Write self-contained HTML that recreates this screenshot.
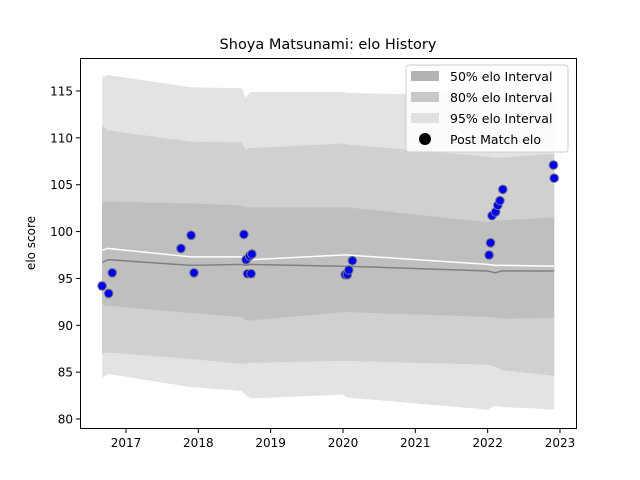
<!DOCTYPE html>
<html><head><meta charset="utf-8"><style>
body{margin:0;background:#fff;}
svg{display:block;font-family:"DejaVu Sans","Liberation Sans",sans-serif;}
</style></head><body>
<svg id="chart" width="640" height="480">
<rect width="640" height="480" fill="#fff"/>
<g id="bands"></g><g id="lines"></g><g id="pts"></g><g id="axes"></g>
<text x="328" y="49" text-anchor="middle" font-size="14.5">Shoya Matsunami: elo History</text>
<text transform="translate(35,243) rotate(-90)" text-anchor="middle" font-size="12">elo score</text>
<g>
<rect x="406" y="65" width="162" height="87" rx="3" fill="#fff" fill-opacity="0.85" stroke="#ccc"/>
<rect x="411" y="71" width="28" height="10" fill="#b3b3b3"/>
<text x="450" y="81" font-size="12.5">50% elo Interval</text>
<rect x="411" y="92" width="28" height="10" fill="#c8c8c8"/>
<text x="450" y="102" font-size="12.5">80% elo Interval</text>
<rect x="411" y="113" width="28" height="10" fill="#e0e0e0"/>
<text x="450" y="123" font-size="12.5">95% elo Interval</text>
<circle cx="425" cy="139" r="6" fill="#000"/>
<text x="450" y="144" font-size="12.5">Post Match elo</text>
</g>
</svg>
<script>
const bandDates=[2016.67,2016.75,2017.9,2018.6,2018.65,2018.72,2020.0,2020.05,2022.0,2022.1,2022.2,2022.92];
const up95=[116.5,116.7,115.4,115.3,114.3,114.9,114.9,114.8,114.5,114.4,114.4,114.3];
const lo95=[84.4,84.8,83.4,83.0,82.6,82.2,82.6,82.3,81.0,81.4,81.3,81.0];
const up80=[111.3,110.8,109.6,109.5,108.8,108.9,109.4,109.3,108.0,107.9,107.9,108.3];
const lo80=[87.0,87.1,86.4,85.9,85.9,86.0,86.2,86.2,85.8,85.6,85.2,84.6];
const up50=[103.2,103.2,103.0,102.8,102.6,102.6,102.6,102.6,101.0,101.2,101.2,101.5];
const lo50=[92.2,92.1,91.3,90.9,90.6,90.5,91.4,91.4,90.9,90.8,90.7,90.8];
const meanVals=[96.7,97.0,96.4,96.5,96.4,96.5,96.3,96.3,95.8,95.6,95.8,95.8];
const whiteVals=[98.0,98.2,97.3,97.3,97.0,97.0,97.5,97.5,96.5,96.4,96.4,96.3];
const ptDates=[2016.67,2016.76,2016.81,2017.76,2017.90,2017.94,2018.63,2018.66,2018.68,2018.71,2018.73,2018.74,2020.03,2020.06,2020.08,2020.13,2022.02,2022.04,2022.06,2022.11,2022.14,2022.17,2022.21,2022.91,2022.92];
const ptVals=[94.2,93.4,95.6,98.2,99.6,95.6,99.7,97.0,95.5,97.4,95.5,97.6,95.4,95.4,95.9,96.9,97.5,98.8,101.7,102.1,102.8,103.3,104.5,107.1,105.7];
const yTicks=[80,85,90,95,100,105,110,115];
const xTicks=[2017,2018,2019,2020,2021,2022,2023];
const X=t=>126+(t-2017)*72.33, Y=v=>419-(v-80)*9.371;
const NS="http://www.w3.org/2000/svg";
function mk(tag,attrs,parent){const e=document.createElementNS(NS,tag);for(const k in attrs)e.setAttribute(k,attrs[k]);parent.appendChild(e);return e;}
function band(u,l,fill,name){
 let d=bandDates.map((t,i)=>(i?'L':'M')+X(t)+','+Y(u[i])).join('');
 for(let i=bandDates.length-1;i>=0;i--)d+='L'+X(bandDates[i])+','+Y(l[i]);
 const p=mk('path',{d:d+'Z',fill:fill},document.getElementById('bands'));
 
 
}
band(up95,lo95,'#e3e3e3','band-95');
band(up80,lo80,'#d0d0d0','band-80');
band(up50,lo50,'#bfbfbf','band-50');
function line(vals,col,name){
 const p=mk('path',{d:bandDates.map((t,i)=>(i?'L':'M')+X(t)+','+Y(vals[i])).join(''),fill:'none',stroke:col,'stroke-width':1.5},document.getElementById('lines'));
 
 
}
line(meanVals,'#808080','mean-line');
line(whiteVals,'#ffffff','median-line');
const pg=document.getElementById('pts');
ptDates.forEach((t,i)=>{
 const c=mk('circle',{cx:X(t),cy:Y(ptVals[i]),r:4.3,fill:'#0000ff',stroke:'#777','stroke-width':1},pg);
 
 
});
const ax=document.getElementById('axes');
const fr=mk('rect',{x:80.5,y:58.5,width:496,height:370,fill:'none',stroke:'#000','stroke-width':1},ax);


yTicks.forEach(v=>{
 mk('line',{x1:76,x2:80,y1:Y(v),y2:Y(v),stroke:'#000'},ax);
 const t=mk('text',{x:73,y:Y(v)+4.5,'text-anchor':'end','font-size':12},ax);
 t.textContent=v;
 
 
});
xTicks.forEach(v=>{
 mk('line',{x1:X(v),x2:X(v),y1:429,y2:433,stroke:'#000'},ax);
 const t=mk('text',{x:X(v),y:447,'text-anchor':'middle','font-size':12},ax);
 t.textContent=v;
 
 
});
</script>
</body></html>
